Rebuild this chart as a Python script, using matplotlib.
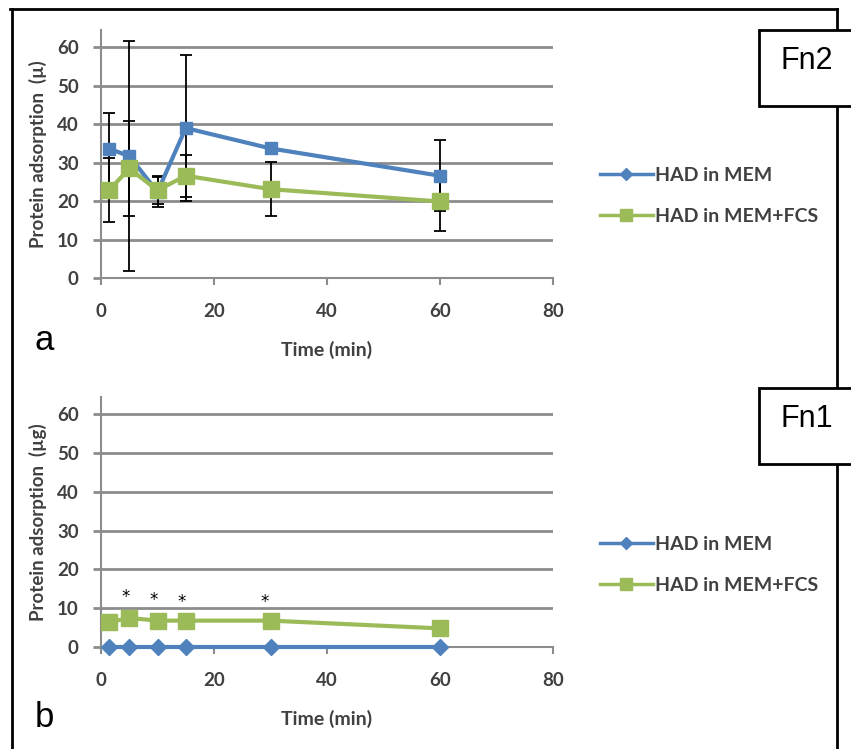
import matplotlib
matplotlib.use("Agg")
import matplotlib.pyplot as plt
from matplotlib.lines import Line2D
from matplotlib.patches import Rectangle

plt.rcParams['font.family'] = ['Lato', 'DejaVu Sans']

# data
times = [1.5, 5, 10, 15, 30, 60]

# panel a (Fn2)
a_mem = [33.6, 31.7, 22.4, 39.0, 33.7, 26.6]
a_mem_err = [9.3, 30.0, 4.0, 19.0, 1.5, 9.3]
a_fcs = [22.9, 28.5, 22.8, 26.6, 23.1, 19.9]
a_fcs_err = [8.3, 12.3, 3.5, 5.5, 7.0, 7.7]

# panel b (Fn1)
b_mem = [0, 0, 0, 0, 0, 0]
b_fcs = [6.4, 7.5, 6.8, 6.8, 6.8, 4.8]
star_times = [4.3, 9.3, 14.3, 29.0]
star_y = [12.8, 12.0, 11.5, 11.7]

series_names = ['HAD in MEM', 'HAD in MEM+FCS']
panel_letters = ['a', 'b']
box_labels = ['Fn2', 'Fn1']
ylabels = ['Protein adsorption  (µ)', 'Protein adsorption  (µg)']

blue = '#4F81BD'
green = '#9BBB59'
grid_c = '#8C8C8C'
text_c = '#404040'

W, H = 851, 749
fig = plt.figure(figsize=(W / 100, H / 100), dpi=100)


def fx(px):
    return px / W


def fy(py):
    return 1 - py / H


def style_axes(ax, ylabel):
    ax.set_xlim(0, 80)
    ax.set_ylim(0, 64.5)
    ax.set_xticks([0, 20, 40, 60, 80])
    ax.set_yticks([0, 10, 20, 30, 40, 50, 60])
    ax.grid(axis='y', color=grid_c, lw=2)
    ax.set_axisbelow(True)
    for s in ['top', 'right']:
        ax.spines[s].set_visible(False)
    for s in ['left', 'bottom']:
        ax.spines[s].set_color(grid_c)
        ax.spines[s].set_linewidth(1.5)
    ax.tick_params(axis='x', colors=grid_c, width=1.5, length=5, pad=13,
                   labelcolor=text_c, labelsize=13.5)
    ax.tick_params(axis='y', colors=grid_c, width=2, length=6, pad=10,
                   labelcolor=text_c, labelsize=13.5)
    for lab in ax.get_xticklabels() + ax.get_yticklabels():
        lab.set_fontweight('bold')
    ax.set_xlabel('Time (min)', fontsize=14, fontweight='bold', color=text_c, labelpad=15)
    ax.set_ylabel(ylabel, fontsize=13.5, fontweight='bold', color=text_c, labelpad=7)


# top panel
ax1 = fig.add_axes([fx(101), fy(278), fx(553) - fx(101), fy(30) - fy(278)])
ax1.errorbar(times, a_mem, yerr=a_mem_err, fmt='none', ecolor='black', elinewidth=1.3,
             capsize=4, capthick=1.3, zorder=2)
ax1.errorbar(times, a_fcs, yerr=a_fcs_err, fmt='none', ecolor='black', elinewidth=1.3,
             capsize=4, capthick=1.3, zorder=2)
ax1.plot(times, a_mem, color=blue, lw=3, marker='s', ms=9, zorder=3)
ax1.plot(times, a_fcs, color=green, lw=3, marker='s', ms=11, zorder=4)
style_axes(ax1, ylabels[0])

# bottom panel
ax2 = fig.add_axes([fx(101), fy(647), fx(553) - fx(101), fy(397) - fy(647)])
ax2.plot(times, b_fcs, color=green, lw=3, marker='s', ms=11, zorder=4)
ax2.plot(times, b_mem, color=blue, lw=3, marker='D', ms=8.5, zorder=5, clip_on=False)
for t, y in zip(star_times, star_y):
    ax2.text(t, y, '*', fontsize=12, ha='center', va='center', color='black',
             family='DejaVu Sans')
style_axes(ax2, ylabels[1])

# legends
leg_handles = [Line2D([], [], color=blue, lw=2.5, marker='D', ms=6),
               Line2D([], [], color=green, lw=2.5, marker='s', ms=8)]
for ypx in [196, 565]:
    leg = fig.legend(leg_handles, series_names, loc='center left',
                     bbox_to_anchor=(fx(600), fy(ypx)), frameon=False,
                     borderpad=0, borderaxespad=0,
                     handlelength=2.7, handletextpad=0.15, labelspacing=1.25,
                     prop={'weight': 'bold', 'size': 14})
    for t in leg.get_texts():
        t.set_color(text_c)

# outer frame lines
frame = dict(color='black', lw=2, transform=fig.transFigure)
fig.add_artist(Line2D([fx(10), fx(837)], [fy(9), fy(9)], **frame))
fig.add_artist(Line2D([fx(12), fx(12)], [fy(9), fy(749)], **frame))
fig.add_artist(Line2D([fx(837), fx(837)], [fy(9), fy(749)], **frame))

# label boxes
for (top, bot), lab in zip([(30, 106), (388, 464)], box_labels):
    fig.add_artist(Rectangle((fx(759), fy(bot)), fx(851 + 10) - fx(759), fy(top) - fy(bot),
                             transform=fig.transFigure, facecolor='white',
                             edgecolor='black', lw=2, zorder=10))
    fig.text(fx(807), fy(top + 31), lab, fontsize=22, ha='center', va='center',
             family='Liberation Sans', zorder=11)

# panel letters
fig.text(fx(35), fy(350), panel_letters[0], fontsize=25, ha='left', va='baseline',
         family='Liberation Sans')
fig.text(fx(35), fy(727), panel_letters[1], fontsize=25, ha='left', va='baseline',
         family='Liberation Sans')

fig.savefig('out.png', dpi=100)
